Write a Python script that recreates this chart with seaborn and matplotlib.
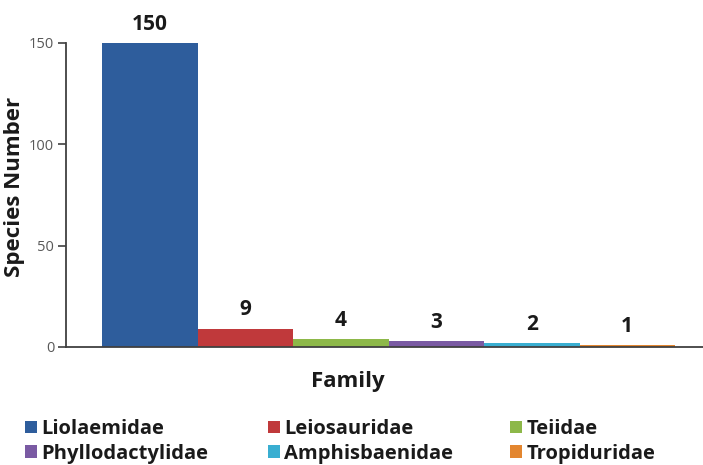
import matplotlib
matplotlib.use("Agg")
import matplotlib.pyplot as plt
import seaborn as sns
import pandas as pd
from matplotlib.patches import Patch

families = ["Liolaemidae", "Leiosauridae", "Teiidae",
            "Phyllodactylidae", "Amphisbaenidae", "Tropiduridae"]
species = [150, 9, 4, 3, 2, 1]
colors = ["#2E5D9C", "#C0393B", "#8DB849", "#7A5AA3", "#39AED1", "#E3862F"]
y_ticks = [0, 50, 100, 150]

sns.set_theme(style="white")
plt.rcParams["font.family"] = ["Open Sans", "DejaVu Sans"]

df = pd.DataFrame({"Family": families, "Species": species})

fig = plt.figure(figsize=(7.03, 4.65), dpi=100)
ax = fig.add_axes([0.0939, 0.2538, 0.9061, 0.6538])

sns.barplot(data=df, x="Family", y="Species", hue="Family",
            palette=colors, width=1.0, legend=False, ax=ax,
            edgecolor="none", saturation=1)

ax.set_xlim(-0.877, 5.793)
ax.set_ylim(0, 150)
ax.set_yticks(y_ticks)
ax.set_yticklabels([str(t) for t in y_ticks], fontsize=10.5, color="#595959")
ax.tick_params(axis="y", which="both", left=True, length=5.5, width=1.2,
               color="#404040", pad=3)
ax.set_xticks([])

for s in ["top", "right"]:
    ax.spines[s].set_visible(False)
for s in ["left", "bottom"]:
    ax.spines[s].set_color("#404040")
    ax.spines[s].set_linewidth(1.3)

for cont in ax.containers:
    ax.bar_label(cont, fmt="%d", padding=6, fontsize=15, fontweight="bold",
                 color="#1a1a1a", clip_on=False)

ax.set_ylabel("Species Number", fontsize=16, fontweight="bold",
              color="#1a1a1a")
ax.yaxis.set_label_coords(-0.064, 0.526)
ax.set_xlabel("Family", fontsize=16, fontweight="bold", color="#1a1a1a")
ax.xaxis.set_label_coords(0.442, -0.079)

groups = [[0, 3], [1, 4], [2, 5]]
xs = [0.0356, 0.381, 0.7255]
for g, x in zip(groups, xs):
    handles = [Patch(facecolor=colors[i], edgecolor="none", label=families[i])
               for i in g]
    leg = fig.legend(handles=handles, ncol=1, loc="center left",
                     bbox_to_anchor=(x, 0.0505), frameon=False,
                     borderpad=0, borderaxespad=0,
                     prop={"size": 14.5, "weight": "bold"},
                     handlelength=0.6, handleheight=0.6, handletextpad=0.2,
                     labelspacing=0.24)
    for t in leg.get_texts():
        t.set_color("#1a1a1a")

fig.savefig("out.png", dpi=100)
